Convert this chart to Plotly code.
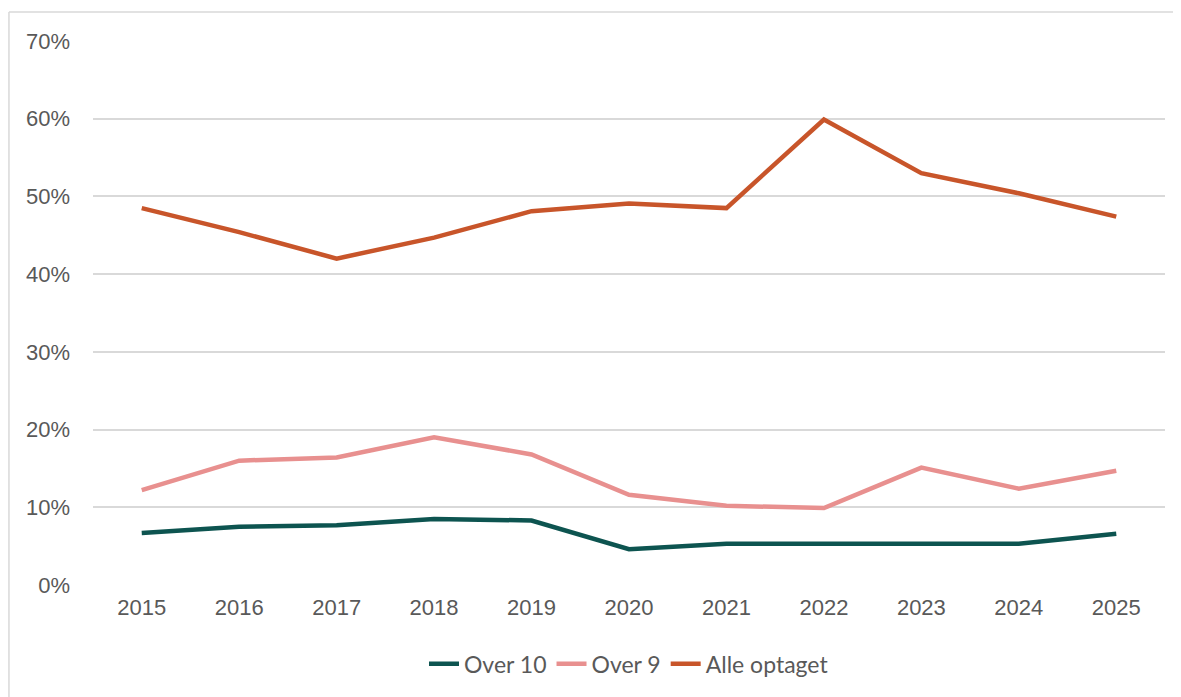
import plotly.graph_objects as go

years = ["2015", "2016", "2017", "2018", "2019", "2020", "2021", "2022", "2023", "2024", "2025"]
over_10 = [6.7, 7.5, 7.7, 8.5, 8.3, 4.6, 5.3, 5.3, 5.4, 5.3, 6.6]
over_9 = [12.2, 16.0, 16.4, 19.0, 16.8, 11.6, 10.2, 9.9, 15.1, 12.4, 14.7]
alle_optaget = [48.5, 45.4, 42.0, 44.7, 48.1, 49.1, 48.5, 59.9, 53.0, 50.4, 47.4]

fig = go.Figure()
series = [
    ("Over 10", over_10, "#0D5450"),
    ("Over 9", over_9, "#E8908F"),
    ("Alle optaget", alle_optaget, "#C8552A"),
]
for name, vals, color in series:
    fig.add_trace(
        go.Scatter(
            x=years,
            y=[v / 100 for v in vals],
            name=name,
            mode="lines",
            line=dict(color=color, width=4.5),
        )
    )

# page body has an 8px margin, so the figure is kept a bit smaller than the window
border = dict(color="#D9D9D9", width=1.5)
fig.update_layout(
    width=1173,
    height=689,
    plot_bgcolor="#FFFFFF",
    paper_bgcolor="#FFFFFF",
    margin=dict(l=85, r=16, t=33, b=105),
    font=dict(family="Liberation Sans", size=22, color="#595959"),
    showlegend=True,
    legend=dict(
        orientation="h",
        x=0.5,
        xanchor="center",
        y=-0.145,
        yanchor="middle",
        font=dict(family="Lato", size=23, color="#595959"),
        traceorder="normal",
    ),
    shapes=[
        # outer frame: only top and left edges fall inside the picture
        dict(type="line", xref="paper", yref="paper", x0=-0.0784, x1=1.05,
             y0=1.0534, y1=1.0534, line=border, layer="below"),
        dict(type="line", xref="paper", yref="paper", x0=-0.0784, x1=-0.0784,
             y0=-0.3, y1=1.0534, line=border, layer="below"),
    ],
)
fig.update_xaxes(
    range=[-0.5, 10.5],
    showgrid=False,
    showline=False,
    zeroline=False,
    ticks="",
    ticklabelstandoff=7,
)
fig.update_yaxes(
    range=[0, 0.7],
    dtick=0.1,
    tickformat=".0%",
    showgrid=True,
    gridcolor="#D9D9D9",
    gridwidth=1.5,
    zeroline=False,
    showline=False,
    ticks="",
    ticklabelstandoff=22,
)

fig.write_html("out.html")
